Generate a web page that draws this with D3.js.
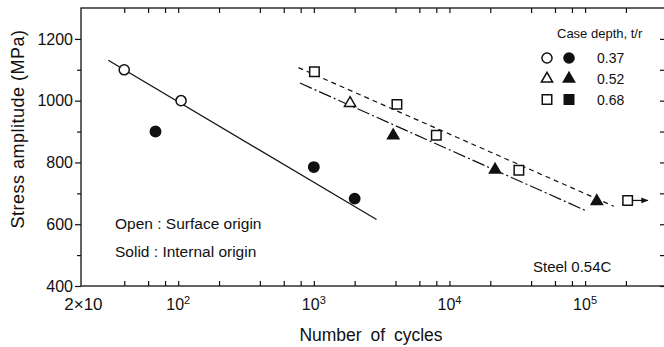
<!DOCTYPE html>
<html>
<head>
<meta charset="utf-8">
<script src="https://cdn.jsdelivr.net/npm/d3@7"></script>
<style>
  body { margin: 0; background: #fff; }
  svg { display: block; }
  text { font-family: "Liberation Sans", Arial, sans-serif; fill: #111; }
  .domain { display: none; }
</style>
</head>
<body>
<div id="chart"></div>
<script>
// chart data (cycles, stress amplitude MPa)
const openCircles    = [[40, 1100], [105, 1000]];
const solidCircles   = [[68, 900], [1000, 785], [2000, 683]];
const openTriangles  = [[1850, 992]];
const solidTriangles = [[3850, 887], [21700, 776], [122000, 674]];
const openSquares    = [[1010, 1094], [4100, 988], [8000, 888], [32500, 775], [206000, 677]];

// fitted lines
const fitCircle   = [[30.5, 1131], [2900, 615]];
const fitSquare   = [[770, 1107], [163000, 658]];
const fitTriangle = [[790, 1057], [100000, 645]];
const runout      = [[206000, 677], [290000, 677]];

// ticks
const xTicks = [40, 60, 80, 100, 200, 400, 600, 800, 1e3, 2e3, 4e3, 6e3, 8e3, 1e4,
                2e4, 4e4, 6e4, 8e4, 1e5, 2e5];
const xDecades = [[100, 2], [1000, 3], [10000, 4], [100000, 5]];
const yMajor = [400, 600, 800, 1000, 1200];
const yMinor = [500, 700, 900, 1100];

const legendRows = [
  {label: '0.37', shape: d3.symbolCircle, size: 80},
  {label: '0.52', shape: d3.symbolTriangle, size: 55},
  {label: '0.68', shape: d3.symbolSquare, size: 90}
];

const W = 664, H = 347;
const plot = {left: 81, right: 666, top: 8, bottom: 286};

const x = d3.scaleLog().domain([19.2, 395000]).range([plot.left, plot.right]);
const y = d3.scaleLinear().domain([400, 1300]).range([plot.bottom, plot.top]);

const svg = d3.select('#chart').append('svg')
    .attr('width', W)
    .attr('height', H);

// frame
svg.append('rect')
    .attr('x', plot.left).attr('y', plot.top)
    .attr('width', plot.right - plot.left).attr('height', plot.bottom - plot.top)
    .attr('fill', 'none').attr('stroke', '#111').attr('stroke-width', 1.3);

// bottom / top ticks (inward)
svg.append('g')
    .attr('transform', `translate(0,${plot.bottom})`)
    .call(d3.axisBottom(x).tickValues(xTicks).tickSize(-5).tickFormat(''))
    .selectAll('line').attr('stroke', '#111').attr('stroke-width', 1.2);
svg.append('g')
    .attr('transform', `translate(0,${plot.top})`)
    .call(d3.axisTop(x).tickValues(xTicks).tickSize(-5).tickFormat(''))
    .selectAll('line').attr('stroke', '#111').attr('stroke-width', 1.2);

// left ticks (outward) + labels
const yAxisG = svg.append('g')
    .attr('transform', `translate(${plot.left},0)`)
    .call(d3.axisLeft(y).tickValues(yMajor).tickSize(6).tickPadding(2).tickFormat(d3.format('d')));
yAxisG.selectAll('line').attr('stroke', '#111').attr('stroke-width', 1.2);
yAxisG.selectAll('text')
    .style('font-family', '"Liberation Sans", Arial, sans-serif')
    .style('font-size', '16px').attr('fill', '#111');
svg.append('g')
    .attr('transform', `translate(${plot.left},0)`)
    .call(d3.axisLeft(y).tickValues(yMinor).tickSize(4).tickFormat(''))
    .selectAll('line').attr('stroke', '#111').attr('stroke-width', 1.2);

// right ticks (inward)
svg.append('g')
    .attr('transform', `translate(${plot.right},0)`)
    .call(d3.axisRight(y).tickValues(yMajor.concat(yMinor)).tickSize(-6).tickFormat(''))
    .selectAll('line').attr('stroke', '#111').attr('stroke-width', 1.2);

// x tick labels
svg.append('text')
    .attr('x', x(20)).attr('y', 310)
    .attr('text-anchor', 'middle')
    .style('font-size', '17px')
    .text('2×10');
xDecades.forEach(([v, e]) => {
  const t = svg.append('text')
      .attr('x', x(v)).attr('y', 310)
      .attr('text-anchor', 'middle')
      .style('font-size', '16px');
  t.append('tspan').text('10');
  t.append('tspan').attr('dy', -6).style('font-size', '11px').text(e);
});

// axis titles
svg.append('text')
    .attr('x', 371).attr('y', 341)
    .attr('text-anchor', 'middle')
    .style('font-size', '17.5px')
    .attr('word-spacing', 4)
    .text('Number of cycles');
svg.append('text')
    .attr('transform', `translate(24,129) rotate(-90)`)
    .attr('text-anchor', 'middle')
    .style('font-size', '18px')
    .attr('letter-spacing', 0.5)
    .text('Stress amplitude  (MPa)');

// lines
const line = d3.line().x(d => x(d[0])).y(d => y(d[1]));
svg.append('path').datum(fitCircle).attr('d', line)
    .attr('fill', 'none').attr('stroke', '#111').attr('stroke-width', 1.2);
svg.append('path').datum(fitSquare).attr('d', line)
    .attr('fill', 'none').attr('stroke', '#111').attr('stroke-width', 1.2)
    .attr('stroke-dasharray', '5,4');
svg.append('path').datum(fitTriangle).attr('d', line)
    .attr('fill', 'none').attr('stroke', '#111').attr('stroke-width', 1.2)
    .attr('stroke-dasharray', '13,3,2,3');

// run-out arrow
svg.append('defs').append('marker')
    .attr('id', 'arrow')
    .attr('viewBox', '0 0 10 10').attr('refX', 9).attr('refY', 5)
    .attr('markerWidth', 6).attr('markerHeight', 6).attr('orient', 'auto')
  .append('path').attr('d', 'M0,1L10,5L0,9Z').attr('fill', '#111');
svg.append('path').datum(runout).attr('d', line)
    .attr('fill', 'none').attr('stroke', '#111').attr('stroke-width', 1.2)
    .attr('marker-end', 'url(#arrow)');

// markers
function drawMarks(data, shape, size, filled) {
  svg.append('g').selectAll('path')
    .data(data)
    .join('path')
      .attr('transform', d => `translate(${x(d[0])},${y(d[1])})`)
      .attr('d', d3.symbol(shape, size))
      .attr('fill', filled ? '#111' : '#fff')
      .attr('stroke', '#111')
      .attr('stroke-width', 1.5);
}
drawMarks(openCircles, d3.symbolCircle, 80, false);
drawMarks(solidCircles, d3.symbolCircle, 85, true);
drawMarks(openTriangles, d3.symbolTriangle, 55, false);
drawMarks(solidTriangles, d3.symbolTriangle, 55, true);
drawMarks(openSquares, d3.symbolSquare, 90, false);

// legend
svg.append('text')
    .attr('x', 557).attr('y', 38)
    .style('font-size', '13px')
    .text('Case depth, t/r');
legendRows.forEach((r, i) => {
  const ry = 58 + i * 20.8;
  svg.append('path')
      .attr('transform', `translate(547,${ry})`)
      .attr('d', d3.symbol(r.shape, r.size))
      .attr('fill', '#fff').attr('stroke', '#111').attr('stroke-width', 1.5);
  svg.append('path')
      .attr('transform', `translate(569,${ry})`)
      .attr('d', d3.symbol(r.shape, r.size))
      .attr('fill', '#111').attr('stroke', '#111').attr('stroke-width', 1.5);
  svg.append('text')
      .attr('x', 597).attr('y', ry + 5)
      .style('font-size', '14px')
      .text(r.label);
});

// annotations
svg.append('text').attr('x', 115).attr('y', 229).style('font-size', '15.5px')
    .text('Open : Surface origin');
svg.append('text').attr('x', 115).attr('y', 257).style('font-size', '15.5px')
    .text('Solid : Internal origin');
svg.append('text').attr('x', 533).attr('y', 272).style('font-size', '15px')
    .text('Steel 0.54C');
</script>
</body>
</html>
